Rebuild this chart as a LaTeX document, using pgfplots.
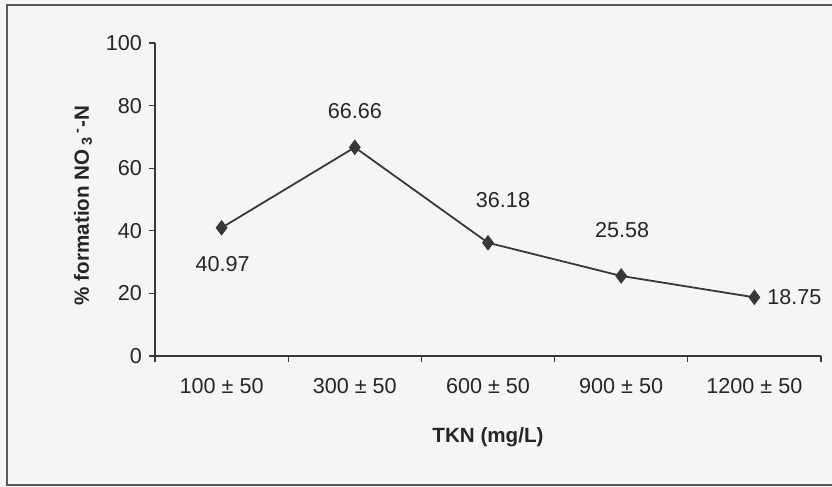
\documentclass[border=0pt]{standalone}
\usepackage{fontspec}
\setmainfont{Liberation Sans}
\usepackage{pgfplots}
\pgfplotsset{compat=1.18}
\definecolor{bgcol}{HTML}{F5F5F5}
\definecolor{inkcol}{HTML}{262626}
\definecolor{linecol}{HTML}{383838}

\pgfplotstableread{
x  y      dx    dy
1  40.97  0.5  -18
2  66.66  0     18
3  36.18  7.5   21.5
4  25.58  0.5   23
5  18.75  20    0
}\nitrate

\begin{document}
\begin{tikzpicture}
\fill[bgcol] (0,0) rectangle (416pt,243.5pt);
\useasboundingbox (0,0) rectangle (416pt,243.5pt);
\draw[gray!70!black, line width=0.6pt] (3.5pt,1pt) rectangle (420pt,241pt);
\begin{axis}[
  at={(77.5pt,65.5pt)}, anchor=south west,
  scale only axis, width=333pt, height=156.5pt,
  xmin=0.5, xmax=5.5, ymin=0, ymax=100,
  axis x line*=bottom, axis y line*=left,
  axis line style={-, linecol, line width=0.6pt},
  tick style={linecol, line width=0.6pt},
  tick align=outside, major tick length=3pt,
  ytick={0,20,...,100},
  xtick={0.5,1.5,...,5.5}, xticklabels={},
  extra x ticks={1,2,3,4,5},
  extra x tick labels={100 ± 50, 300 ± 50, 600 ± 50, 900 ± 50, 1200 ± 50},
  extra x tick style={major tick length=0pt,
    xticklabel style={anchor=center, yshift=-15pt}},
  /pgf/number format/assume math mode=true,
  tick label style={font=\fontsize{10.8}{13}\selectfont, text=inkcol},
  xlabel={\textbf{TKN (mg/L)}},
  ylabel={\textbf{\% formation NO\,\textsubscript{3}\,\textsuperscript{-}-N}},
  label style={font=\fontsize{10.3}{12}\selectfont, text=inkcol},
  xlabel style={at={(axis description cs:0.5,0)}, anchor=center, yshift=-40.5pt},
  ylabel style={at={(axis description cs:0,0.5)}, anchor=center, xshift=-3pt, yshift=36pt},
  clip=false,
  visualization depends on={\thisrow{dx} \as \dx},
  visualization depends on={\thisrow{dy} \as \dy},
  nodes near coords={\pgfmathprintnumber[fixed,fixed zerofill,precision=2]{\pgfplotspointmeta}},
  nodes near coords style={anchor=center, xshift=\dx pt, yshift=\dy pt,
    font=\fontsize{10.8}{13}\selectfont, text=inkcol},
]
\addplot[linecol, line width=0.9pt, mark=diamond*, mark size=3.2pt,
  mark options={fill=linecol, draw=linecol}] table[x=x, y=y] {\nitrate};
\end{axis}
\end{tikzpicture}
\end{document}
